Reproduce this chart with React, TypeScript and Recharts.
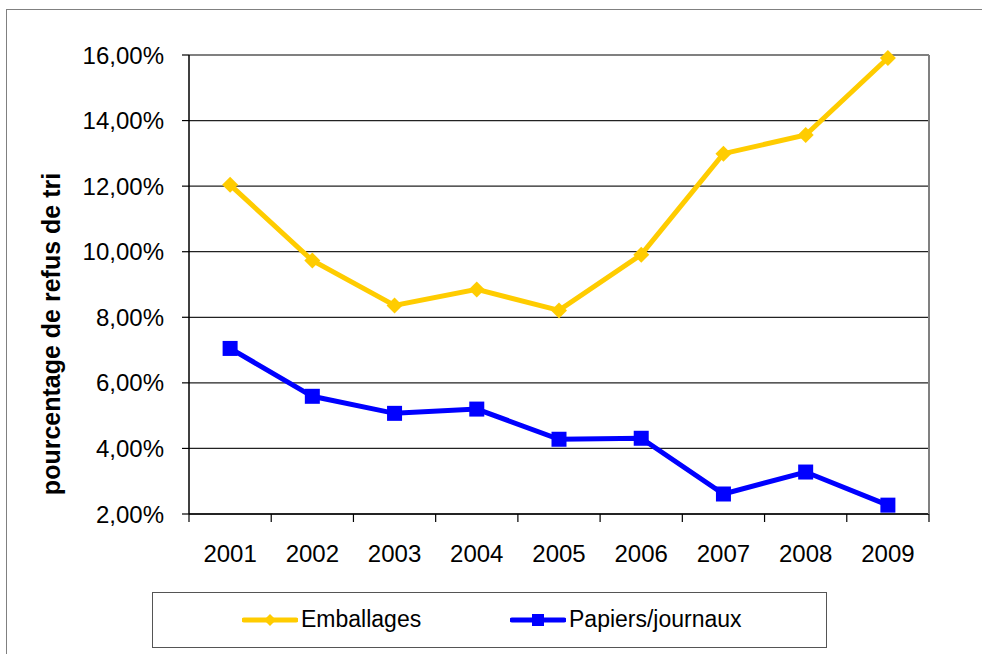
import { CartesianGrid, Legend, Line, LineChart, ReferenceLine, XAxis, YAxis } from "recharts";

const years = ["2001", "2002", "2003", "2004", "2005", "2006", "2007", "2008", "2009"];
const emballages = [12.04, 9.73, 8.36, 8.85, 8.21, 9.91, 12.99, 13.56, 15.91];
const papiers = [7.05, 5.59, 5.07, 5.2, 4.28, 4.31, 2.61, 3.28, 2.27];
const yTicks = [2, 4, 6, 8, 10, 12, 14, 16];

const data = years.map((year, i) => ({ year, emballages: emballages[i], papiers: papiers[i] }));

const FONT = "'Liberation Sans', Arial, sans-serif";
const YELLOW = "#FFCC00";
const BLUE = "#0000FF";

const pct = (v: number) => `${v.toFixed(2).replace(".", ",")}%`;

function Diamond(props: any) {
  const { cx, cy } = props;
  if (cx == null || cy == null) return null;
  const r = 8;
  return <polygon points={`${cx},${cy - r} ${cx + r},${cy} ${cx},${cy + r} ${cx - r},${cy}`} fill={YELLOW} />;
}

function Square(props: any) {
  const { cx, cy } = props;
  if (cx == null || cy == null) return null;
  const s = 15;
  return <rect x={cx - s / 2} y={cy - s / 2} width={s} height={s} fill={BLUE} />;
}

function YearTick(props: any) {
  const { x, y, payload, index } = props;
  const half = payload?.offset || 41.1;
  return (
    <g>
      <line x1={x - half} x2={x - half} y1={y} y2={y + 8} stroke="#000" strokeWidth={1.2} />
      {index === years.length - 1 && (
        <line x1={x + half} x2={x + half} y1={y} y2={y + 8} stroke="#000" strokeWidth={1.2} />
      )}
      <text x={x} y={y + 48} textAnchor="middle" fill="#000" fontSize={24} fontFamily={FONT}>
        {payload.value}
      </text>
    </g>
  );
}

function YLabel() {
  return (
    <text
      x={60}
      y={334}
      transform="rotate(-90, 60, 334)"
      textAnchor="middle"
      fontSize={25}
      fontWeight="bold"
      fontFamily={FONT}
      fill="#000"
    >
      pourcentage de refus de tri
    </text>
  );
}

function LegendBox() {
  const item = (left: number, color: string, marker: "diamond" | "square", label: string) => (
    <div style={{ position: "absolute", left, top: 0, height: 53, display: "flex", alignItems: "center" }}>
      <svg width={56} height={16} style={{ display: "block" }}>
        <line x1={2} x2={54} y1={8} y2={8} stroke={color} strokeWidth={5} strokeLinecap="round" />
        {marker === "diamond" ? (
          <polygon points="28,2 34,8 28,14 22,8" fill={color} />
        ) : (
          <rect x={22} y={2} width={12} height={12} fill={color} />
        )}
      </svg>
      <span style={{ marginLeft: 3, fontSize: 23, fontFamily: FONT, color: "#000" }}>{label}</span>
    </div>
  );
  return (
    <div
      style={{
        position: "relative",
        boxSizing: "border-box",
        width: 675,
        height: 56,
        border: "1.5px solid #555",
        background: "#fff",
      }}
    >
      {item(89, YELLOW, "diamond", "Emballages")}
      {item(357, BLUE, "square", "Papiers/journaux")}
    </div>
  );
}

export default function App() {
  return (
    <div
      style={{
        position: "absolute",
        left: 0,
        top: 0,
        width: 982,
        height: 654,
        overflow: "hidden",
        background: "#fff",
      }}
    >
      <div
        style={{
          position: "absolute",
          left: 6,
          top: 9,
          width: 1000,
          height: 700,
          border: "1.5px solid #808080",
        }}
      />
      <div style={{ position: "absolute", left: 0, top: 0 }}>
        <LineChart width={982} height={654} data={data} margin={{ top: 55, right: 52, bottom: 100, left: 39 }}>
          <CartesianGrid vertical={false} stroke="#222" strokeWidth={1.2} />
          <XAxis
            dataKey="year"
            scale="band"
            height={40}
            tickLine={false}
            tickSize={0}
            tickMargin={0}
            axisLine={{ stroke: "#000", strokeWidth: 1.5 }}
            tick={<YearTick />}
            interval={0}
          />
          <YAxis
            domain={[2, 16]}
            ticks={yTicks}
            width={150}
            tickFormatter={pct}
            tickSize={7}
            tickMargin={18}
            tick={{ fill: "#000", fontSize: 24, fontFamily: FONT }}
            tickLine={{ stroke: "#000", strokeWidth: 1.2 }}
            axisLine={{ stroke: "#000", strokeWidth: 1.5 }}
            label={<YLabel />}
          />
          <YAxis
            yAxisId="r"
            orientation="right"
            domain={[2, 16]}
            width={1}
            tick={false}
            tickLine={false}
            axisLine={{ stroke: "#808080", strokeWidth: 2 }}
          />
          <ReferenceLine y={16} stroke="#808080" strokeWidth={2} />
          <Line
            dataKey="emballages"
            stroke={YELLOW}
            strokeWidth={5}
            dot={<Diamond />}
            activeDot={false}
            isAnimationActive={false}
          />
          <Line
            dataKey="papiers"
            stroke={BLUE}
            strokeWidth={5}
            dot={<Square />}
            activeDot={false}
            isAnimationActive={false}
          />
          <Legend
            layout="horizontal"
            align="center"
            verticalAlign="middle"
            content={<LegendBox />}
            wrapperStyle={{ position: "absolute", left: 152, top: 592, width: 675, height: 56 }}
          />
        </LineChart>
      </div>
    </div>
  );
}
